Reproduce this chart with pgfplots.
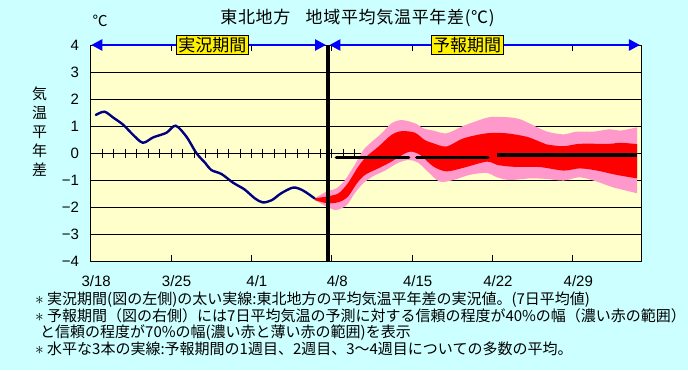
\documentclass[border=0pt]{standalone}
\usepackage{fontspec}
\setmainfont{Noto Sans CJK JP}
\newfontfamily\arialf{Liberation Sans}
\usepackage{xcolor}
\usepackage{pgfplots}
\pgfplotsset{compat=1.18}
\usepgfplotslibrary{fillbetween}
\usetikzlibrary{arrows.meta}
\definecolor{bgc}{HTML}{CCFFFF}
\definecolor{plotbg}{HTML}{FFFFCC}
\definecolor{pinkb}{HTML}{FF99CC}
\definecolor{redb}{HTML}{FF0000}
\definecolor{navyl}{HTML}{000080}
\definecolor{arrowb}{HTML}{0000FF}
\pagecolor{bgc}
\newcommand{\bigast}{{\fontsize{18}{18}\selectfont$\ast$}}
\begin{document}
\begin{tikzpicture}[x=1pt,y=1pt]
\path (0,0) rectangle (688,370);
\begin{axis}[
  at={(90.7pt,109pt)}, anchor=south west,
  scale only axis, width=551pt, height=216pt,
  xmin=0, xmax=48, ymin=-4, ymax=4,
  axis background/.style={fill=plotbg},
  axis line style={black, line width=0.8pt},
  xtick={0,7,14,21,28,35,42},
  xticklabels={3/18,3/25,4/1,4/8,4/15,4/22,4/29},
  ytick={-4,-3,-2,-1,0,1,2,3,4},
  yticklabels={−4,−3,−2,−1,0,1,2,3,4},
  ymajorgrids, grid style={black, line width=0.8pt},
  tick align=inside, major tick length=6pt,
  xtick style={black, line width=0.8pt},
  ytick style={draw=none},
  ticklabel style={font=\arialf\fontsize{15}{15}\selectfont},
  xticklabel style={anchor=north, inner sep=0pt, yshift=-14pt, xshift=5.5pt},
  yticklabel style={anchor=east, inner sep=0pt, xshift=-11.5pt},
  clip=false,
]
% minor ticks on zero line (visible part, left of the bands)
\addplot[only marks, mark=|, mark size=4.5pt, black, mark options={line width=0.8pt}]
  coordinates {(1,0)(2,0)(3,0)(4,0)(5,0)(6,0)(7,0)(8,0)(9,0)(10,0)(11,0)(12,0)(13,0)(14,0)(15,0)(16,0)(17,0)(18,0)(19,0)(20,0)(21,0)(22,0)(23,0)};
% band edges
\addplot[name path=pu, draw=none, smooth] coordinates {(19.5,-1.68)(20.55,-1.43)(21.4,-1.31)(22.15,-1.0)(23.0,-0.44)(23.75,0.11)(24.5,0.42)(25.35,0.73)(26.2,1.1)(27.1,1.22)(28.25,1.1)(29.0,0.91)(29.85,0.83)(31.0,0.73)(32.45,1.0)(33.6,1.18)(34.8,1.33)(36.5,1.32)(37.4,1.25)(38.3,1.08)(39.7,0.8)(41.2,0.69)(42.3,0.79)(43.8,0.79)(45.2,0.88)(46.1,0.83)(47.6,0.95)};
\addplot[name path=pl, draw=none, smooth] coordinates {(19.5,-1.74)(20.6,-1.99)(21.4,-2.11)(22.3,-1.93)(23.0,-1.49)(23.75,-1.12)(24.6,-0.86)(25.6,-0.66)(26.8,-0.36)(27.7,-0.26)(28.5,-0.35)(29.4,-0.7)(30.4,-1.06)(31.6,-1.0)(33.0,-0.81)(34.5,-0.74)(35.4,-0.9)(36.5,-1.0)(38.3,-0.94)(39.7,-0.96)(41.2,-1.02)(42.6,-0.9)(44.1,-1.06)(45.5,-1.27)(47.6,-1.49)};
\addplot[name path=ru, draw=none, smooth] coordinates {(19.5,-1.68)(20.7,-1.6)(21.6,-1.49)(22.4,-1.12)(23.3,-0.51)(24.0,-0.14)(25.05,0.23)(26.2,0.67)(27.1,0.81)(28.25,0.75)(29.1,0.48)(29.85,0.36)(31.0,0.24)(32.45,0.54)(34.5,0.73)(36.2,0.73)(38.0,0.6)(39.1,0.42)(39.7,0.32)(41.2,0.25)(42.6,0.34)(45.2,0.34)(46.1,0.38)(47.6,0.33)};
\addplot[name path=rl, draw=none, smooth] coordinates {(19.5,-1.74)(20.6,-1.86)(21.6,-1.82)(22.4,-1.62)(23.2,-1.12)(23.9,-0.81)(25.05,-0.57)(26.2,-0.32)(27.4,-0.01)(27.96,0.05)(28.7,-0.07)(29.85,-0.5)(31.0,-0.68)(32.45,-0.55)(34.5,-0.32)(35.4,-0.44)(36.8,-0.51)(39.1,-0.52)(41.2,-0.65)(42.6,-0.57)(44.1,-0.65)(45.8,-0.81)(47.6,-0.94)};
\addplot[pinkb, draw=none] fill between[of=pu and pl];
\addplot[redb, draw=none] fill between[of=ru and rl];
% observed
\addplot[navyl, line width=2.4pt, smooth, line cap=round] coordinates {(0.45,1.41)(1.2,1.53)(2.0,1.3)(2.85,1.04)(3.7,0.67)(4.55,0.38)(5.45,0.58)(6.6,0.75)(7.4,1.01)(8.35,0.6)(9.2,0.0)(10.0,-0.38)(10.5,-0.63)(11.4,-0.78)(12.4,-1.1)(13.4,-1.35)(14.3,-1.68)(15.0,-1.83)(15.8,-1.74)(16.6,-1.49)(17.65,-1.28)(18.5,-1.39)(19.5,-1.68)};
% weekly means
\addplot[black, line width=3.5pt, line cap=round] coordinates {(21.4,-0.17)(27.7,-0.17)};
\addplot[black, line width=3.5pt, line cap=round] coordinates {(28.4,-0.17)(34.6,-0.17)};
\addplot[black, line width=3.5pt, line cap=butt] coordinates {(35.4,-0.08)(47.6,-0.08)};
% divider
\draw[black, line width=4pt] (axis cs:20.64,-4) -- (axis cs:20.64,4);
% period arrows
\draw[arrowb, line width=2.5pt, {Triangle[length=11pt,width=11pt]}-{Triangle[length=11pt,width=11pt]}] (axis cs:0.05,4) -- (axis cs:20.5,4);
\draw[arrowb, line width=2.5pt, {Triangle[length=11pt,width=11pt]}-{Triangle[length=11pt,width=11pt]}] (axis cs:20.8,4) -- (axis cs:47.85,4);
\node[fill=yellow, draw=black, line width=0.8pt, inner xsep=2pt, inner ysep=1.5pt, font=\fontsize{17}{17}\selectfont] at (axis cs:10.6,4) {実況期間};
\node[fill=yellow, draw=black, line width=0.8pt, inner xsep=2pt, inner ysep=1.5pt, font=\fontsize{17}{17}\selectfont] at (axis cs:32.8,4) {予報期間};
\end{axis}
\node[font=\fontsize{17}{17}\selectfont\addfontfeature{LetterSpace=4}, anchor=base] at (357.5,346.5) {東北地方\hspace{0.9em}地域平均気温平年差(℃)};
\node[font=\fontsize{15}{15}\selectfont, anchor=base] at (100,343) {℃};
\node[font=\fontsize{15}{19}\selectfont, align=center] at (39.5,238.3) {気\\温\\平\\年\\差};
\begin{scope}[every node/.style={anchor=base west, inner sep=0pt, font=\fontsize{15}{15}\selectfont}]
\node at (35,65.3) {\bigast\ 実況期間(図の左側)の太い実線:東北地方の平均気温平年差の実況値。(7日平均値)};
\node at (35,48.3) {\bigast\ 予報期間（図の右側）には7日平均気温の予測に対する信頼の程度が40\%の幅（濃い赤の範囲）};
\node at (40,32.3) {と信頼の程度が70\%の幅(濃い赤と薄い赤の範囲)を表示};
\node at (35,15.3) {\bigast\ 水平な3本の実線:予報期間の1週目、2週目、3～4週目についての多数の平均。};
\end{scope}
\pgfresetboundingbox
\path (0,0) rectangle (688,370);
\end{tikzpicture}
\end{document}
